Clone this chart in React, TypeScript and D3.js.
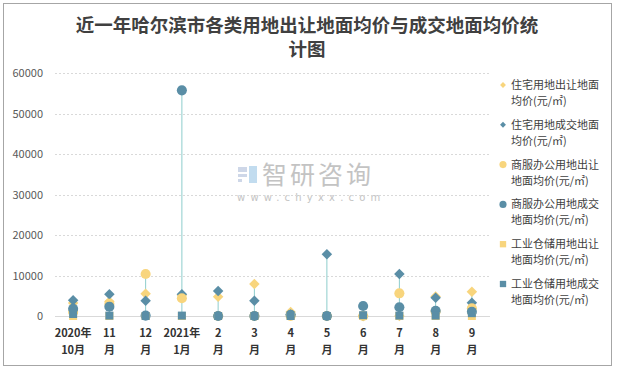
import React, { useEffect, useRef } from "react";
import * as d3 from "d3";

const months = [
  "2020年|10月", "11|月", "12|月", "2021年|1月", "2|月", "3|月",
  "4|月", "5|月", "6|月", "7|月", "8|月", "9|月",
];

// 元/㎡
const resSell = [3200, 3550, 5500, 5200, 4770, 7900, 1000, 0, 0, 0, 4800, 6000];
const resDeal = [3900, 5350, 3780, 5350, 6170, 3780, 400, 15230, 0, 10370, 4520, 3300];
const comSell = [1000, 3000, 10370, 4370, 0, 0, 0, 0, 0, 5600, 1100, 1900];
const comDeal = [1800, 2300, 100, 55720, 0, 0, 300, 0, 2470, 2150, 1300, 1060];
const indSell = [0, 0, 0, 0, 0, 0, 0, 0, 0, 0, 0, 0];
const indDeal = [500, 100, 0, 100, 0, 0, 0, 0, 200, 100, 100, 700];

const yTicks = [0, 10000, 20000, 30000, 40000, 50000, 60000];

const YELLOW = "#f8d57d";
const TEAL = "#5a8ea6";

const seriesList = [
  { name: "住宅用地出让地面|均价(元/㎡)", values: resSell, color: YELLOW, shape: "diamond" },
  { name: "住宅用地成交地面|均价(元/㎡)", values: resDeal, color: TEAL, shape: "diamond" },
  { name: "商服办公用地出让|地面均价(元/㎡)", values: comSell, color: YELLOW, shape: "circle" },
  { name: "商服办公用地成交|地面均价(元/㎡)", values: comDeal, color: TEAL, shape: "circle" },
  { name: "工业仓储用地出让|地面均价(元/㎡)", values: indSell, color: YELLOW, shape: "square" },
  { name: "工业仓储用地成交|地面均价(元/㎡)", values: indDeal, color: TEAL, shape: "square" },
];

const App = () => {
  const svgRef = useRef<SVGSVGElement>(null);

  useEffect(() => {
    document.body.style.margin = "0";
    const width = 617;
    const height = 369;
    const margin = { top: 73, right: 127, bottom: 53, left: 55 };
    const font = "'Noto Sans CJK SC', 'Noto Sans', sans-serif";

    const svg = d3.select(svgRef.current);
    svg.selectAll("*").remove();
    svg.attr("width", width).attr("height", height);

    svg.append("rect").attr("width", width).attr("height", height).attr("fill", "#fff");
    svg.append("rect")
      .attr("x", 3.5).attr("y", 3.5)
      .attr("width", 608).attr("height", 362)
      .attr("fill", "none").attr("stroke", "#a6a6a6");

    // title
    const title = svg.append("text")
      .attr("text-anchor", "middle")
      .attr("font-family", font)
      .attr("font-weight", "bold")
      .attr("font-size", 18.5)
      .attr("fill", "#404040");
    title.append("tspan").attr("x", 307).attr("y", 32).text("近一年哈尔滨市各类用地出让地面均价与成交地面均价统");
    title.append("tspan").attr("x", 307).attr("y", 56).text("计图");

    const xScale = d3.scaleBand()
      .domain(months)
      .range([margin.left, width - margin.right]);

    const yScale = d3.scaleLinear()
      .domain([0, 60000])
      .range([height - margin.bottom, margin.top]);

    // watermark
    const wm = svg.append("g").attr("opacity", 0.9);
    wm.append("rect").attr("x", 238).attr("y", 167).attr("width", 9).attr("height", 5).attr("fill", "#c9d3e6");
    wm.append("rect").attr("x", 238).attr("y", 174).attr("width", 9).attr("height", 3).attr("fill", "#c9d3e6");
    wm.append("rect").attr("x", 238).attr("y", 179).attr("width", 4).attr("height", 3).attr("fill", "#c9d3e6");
    wm.append("rect").attr("x", 249).attr("y", 166).attr("width", 8).attr("height", 17).attr("fill", "#bcd9ee");
    wm.append("text")
      .attr("x", 262).attr("y", 184)
      .attr("font-family", font)
      .attr("font-size", 25)
      .attr("letter-spacing", 3)
      .attr("fill", "#bdbdbd")
      .text("智研咨询");
    wm.append("text")
      .attr("x", 237).attr("y", 201)
      .attr("font-family", "'DejaVu Sans', sans-serif")
      .attr("font-size", 10)
      .attr("letter-spacing", 5.2)
      .attr("fill", "#bdbdbd")
      .text("www.chyxx.com");

    // grid
    svg.append("g")
      .selectAll("line")
      .data(yTicks)
      .join("line")
      .attr("x1", margin.left)
      .attr("x2", width - margin.right)
      .attr("y1", (d) => Math.round(yScale(d)) + 0.5)
      .attr("y2", (d) => Math.round(yScale(d)) + 0.5)
      .attr("stroke", "#d9d9d9")
      .attr("stroke-dasharray", (d) => (d === 0 ? null : "2,2"));

    // y labels
    svg.append("g")
      .selectAll("text")
      .data(yTicks)
      .join("text")
      .attr("x", 43)
      .attr("y", (d) => yScale(d) + 4)
      .attr("text-anchor", "end")
      .attr("font-family", font)
      .attr("font-size", 11)
      .attr("fill", "#595959")
      .text((d) => d);

    // x labels
    const xl = svg.append("g")
      .selectAll("text")
      .data(months)
      .join("text")
      .attr("text-anchor", "middle")
      .attr("font-family", font)
      .attr("font-weight", "bold")
      .attr("font-size", 11)
      .attr("fill", "#333");
    xl.append("tspan")
      .attr("x", (d) => xScale(d)! + xScale.bandwidth() / 2)
      .attr("y", 337)
      .text((d) => d.split("|")[0]);
    xl.append("tspan")
      .attr("x", (d) => xScale(d)! + xScale.bandwidth() / 2)
      .attr("y", 354)
      .text((d) => d.split("|")[1]);

    // high-low lines
    svg.append("g")
      .selectAll("line")
      .data(months)
      .join("line")
      .attr("x1", (d) => xScale(d)! + xScale.bandwidth() / 2)
      .attr("x2", (d) => xScale(d)! + xScale.bandwidth() / 2)
      .attr("y1", (d, i) => yScale(d3.min(seriesList, (s) => s.values[i])!))
      .attr("y2", (d, i) => yScale(d3.max(seriesList, (s) => s.values[i])!))
      .attr("stroke", "#8ecdcc")
      .attr("stroke-width", 1);

    const symbolFor = (shape: string, size: number) => {
      const type = shape === "diamond" ? d3.symbolDiamond2 : shape === "circle" ? d3.symbolCircle : d3.symbolSquare;
      return d3.symbol().type(type).size(size)();
    };
    const sizes: Record<string, number> = { diamond: 70, circle: 80, square: 64 };

    // markers
    seriesList.forEach((s) => {
      svg.append("g")
        .selectAll("path")
        .data(s.values)
        .join("path")
        .attr("transform", (d, i) => `translate(${xScale(months[i])! + xScale.bandwidth() / 2},${yScale(d)})`)
        .attr("d", symbolFor(s.shape, sizes[s.shape]))
        .attr("fill", s.color);
    });

    // legend
    const legend = svg.append("g")
      .selectAll("g")
      .data(seriesList)
      .join("g")
      .attr("transform", (d, i) => `translate(0,${89 + i * 39.8})`);
    legend.append("path")
      .attr("transform", "translate(503,-4)")
      .attr("d", (d) => symbolFor(d.shape, d.shape === "diamond" ? 22 : 40))
      .attr("fill", (d) => d.color);
    const lt = legend.append("text")
      .attr("font-family", font)
      .attr("font-size", 11)
      .attr("fill", "#404040");
    lt.append("tspan").attr("x", 511).attr("y", 0).text((d) => d.name.split("|")[0]);
    lt.append("tspan").attr("x", 511).attr("y", 16).text((d) => d.name.split("|")[1]);
  }, []);

  return <svg ref={svgRef} style={{ display: "block" }} />;
};

export default App;
